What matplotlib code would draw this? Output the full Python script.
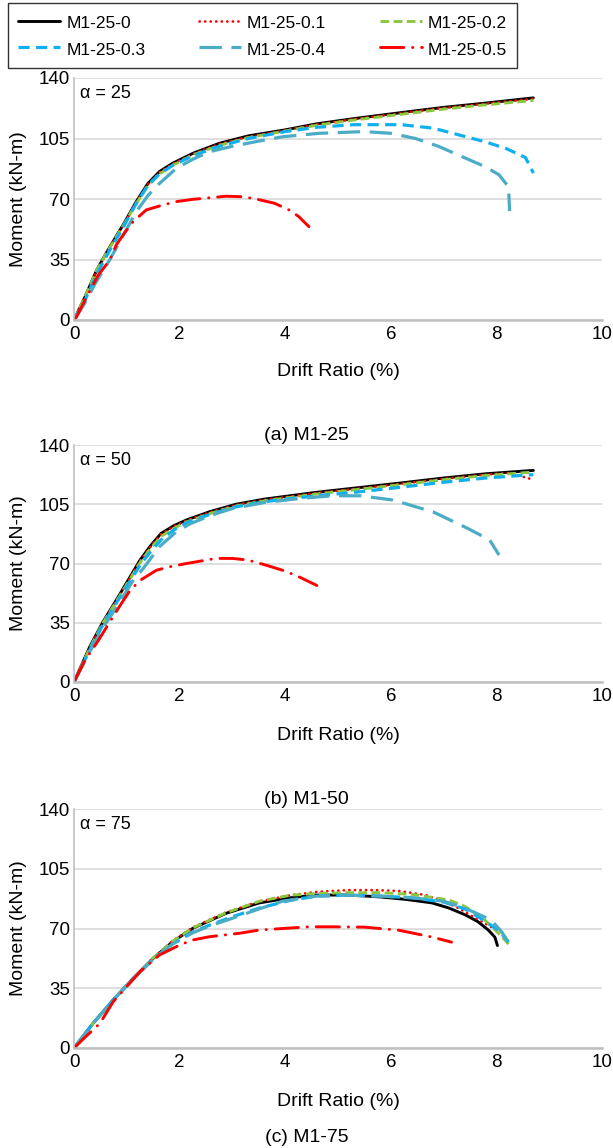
import numpy as np
import matplotlib.pyplot as plt

plt.rcParams['font.family'] = ['Liberation Sans', 'DejaVu Sans']

labels = ['M1-25-0', 'M1-25-0.1', 'M1-25-0.2', 'M1-25-0.3', 'M1-25-0.4', 'M1-25-0.5']
panel_alpha = ['25', '50', '75']
panel_caption = ['(a) M1-25', '(b) M1-50', '(c) M1-75']
x_ticks = [0, 2, 4, 6, 8, 10]
y_ticks = [0, 35, 70, 105, 140]

# ---- (a) alpha = 25 ----
a_x0 = [0, 0.21, 0.43, 0.68, 0.93, 1.18, 1.4, 1.62, 1.87, 2.25, 2.75, 3.3, 4.0, 4.6, 5.3, 6.2, 7.0, 7.8, 8.7]
a_y0 = [0, 13.5, 28.9, 42.4, 55, 68.5, 79, 85.9, 90.7, 96.4, 102.2, 106.5, 110, 113.5, 116.5, 120, 123, 125.5, 128.5]
a_x1 = [0, 0.21, 0.43, 0.68, 0.93, 1.18, 1.4, 1.62, 1.87, 2.25, 2.75, 3.3, 4.0, 4.6, 5.3, 6.2, 7.0, 7.8, 8.7]
a_y1 = [0, 13.3, 28.6, 42.2, 54.8, 68.2, 78.6, 85.5, 90.3, 96, 101.8, 106, 109.7, 113.2, 116.2, 119.7, 122.7, 125.2, 128]
a_x2 = [0, 0.21, 0.43, 0.68, 0.93, 1.18, 1.4, 1.62, 1.87, 2.25, 2.75, 3.3, 4.0, 4.6, 5.3, 6.2, 7.0, 7.8, 8.7]
a_y2 = [0, 13.5, 28.9, 42, 54.5, 67.5, 77.5, 84.5, 89.5, 95.5, 101, 105.5, 109.3, 112.7, 115.7, 119, 122, 124.5, 127]
a_x3 = [0, 0.21, 0.43, 0.68, 0.93, 1.18, 1.4, 1.62, 1.87, 2.25, 2.75, 3.3, 4.0, 4.6, 5.3, 6.2, 6.8, 7.3, 7.8, 8.2, 8.55, 8.7]
a_y3 = [0, 11.5, 26.5, 40.5, 53.5, 67.5, 78, 84.5, 89.5, 95, 100.5, 105, 109, 111.5, 113, 113, 111, 107, 103, 99, 94, 85]
a_x4 = [0, 0.21, 0.4, 0.68, 0.95, 1.18, 1.4, 1.62, 1.94, 2.25, 2.57, 3.0, 3.5, 3.95, 4.64, 5.5, 6.0, 6.47, 6.9, 7.2, 7.5, 7.8, 8.05, 8.23, 8.25]
a_y4 = [0, 10, 21, 35, 50, 62.7, 72, 79, 87.8, 93, 97.4, 100.5, 103.5, 106, 108, 109, 108, 105, 100.5, 96.5, 92.5, 88.5, 84, 77, 63]
a_x5 = [0, 0.05, 0.21, 0.46, 0.68, 0.8, 0.96, 1.12, 1.37, 1.68, 1.94, 2.25, 2.88, 3.2, 3.45, 3.8, 4.07, 4.25, 4.45]
a_y5 = [0, 1.9, 11.6, 26, 34.7, 43.4, 50.5, 56.9, 63.7, 66.5, 68.5, 69.8, 71.6, 71.3, 70, 67.5, 63.7, 60, 54]

# ---- (b) alpha = 50 ----
b_x0 = [0, 0.3, 0.55, 0.84, 1.25, 1.45, 1.65, 1.9, 2.13, 2.57, 3.07, 3.6, 4.58, 5.3, 6.17, 7.0, 7.8, 8.7]
b_y0 = [0, 20.9, 35.6, 50.4, 72, 80.5, 87.8, 92.5, 95.7, 100.6, 105, 108, 112, 114.5, 117.5, 120.5, 123, 125]
b_x1 = [0, 0.3, 0.55, 0.84, 1.25, 1.45, 1.65, 1.9, 2.13, 2.57, 3.07, 3.6, 4.58, 5.3, 6.17, 7.0, 7.8, 8.2, 8.42, 8.7]
b_y1 = [0, 20.5, 35.2, 50, 71.5, 80, 87.3, 92, 95.3, 100.2, 104.6, 107.6, 111.6, 114, 117, 120, 122.5, 123.5, 122, 119.5]
b_x2 = [0, 0.3, 0.55, 0.84, 1.25, 1.45, 1.65, 1.9, 2.13, 2.57, 3.07, 3.6, 4.58, 5.3, 6.17, 7.0, 7.8, 8.7]
b_y2 = [0, 20, 35, 49.5, 70.5, 79, 86, 91, 94.5, 99.5, 104, 107, 111, 113.5, 116.5, 119.5, 122, 124]
b_x3 = [0, 0.3, 0.55, 0.84, 1.25, 1.45, 1.65, 1.9, 2.13, 2.57, 3.07, 3.6, 4.58, 5.3, 6.17, 7.0, 7.8, 8.7]
b_y3 = [0, 19, 34, 48.5, 69, 77, 84, 90, 94, 99, 103.5, 106.5, 110, 112, 115, 118, 120.5, 122.5]
b_x4 = [0, 0.3, 0.55, 0.84, 1.12, 1.31, 1.62, 1.94, 2.2, 2.6, 3.0, 3.6, 4.3, 4.9, 5.42, 6.04, 6.8, 7.44, 7.87, 8.05]
b_y4 = [0, 18, 32, 46, 60, 67, 80, 88.8, 93.5, 98.5, 102.5, 106, 108.5, 110, 110, 107.5, 100.5, 91, 84, 75]
b_x5 = [0, 0.21, 0.45, 0.68, 0.9, 1.06, 1.25, 1.56, 1.8, 2.13, 2.69, 3.0, 3.3, 3.64, 4.0, 4.27, 4.6]
b_y5 = [0, 13, 24, 35.6, 46.5, 54, 60, 66, 68, 70, 73, 73, 72, 69, 65.5, 62, 57]

# ---- (c) alpha = 75 ----
c_x0 = [0, 0.36, 0.74, 1.12, 1.5, 1.87, 2.25, 2.88, 3.51, 4.1, 4.58, 5.2, 5.8, 6.3, 6.78, 7.1, 7.41, 7.65, 7.85, 7.97, 8.02]
c_y0 = [0, 14.4, 28.1, 40.8, 52.5, 62.3, 70.1, 78.9, 85, 88, 89.6, 89.6, 88.5, 87, 85, 82, 78, 74, 69, 65, 60]
c_x1 = [0, 0.36, 0.74, 1.12, 1.5, 1.87, 2.25, 2.88, 3.51, 4.1, 4.6, 5.2, 5.7, 6.15, 6.66, 7.0, 7.28, 7.66, 7.9, 8.1]
c_y1 = [0, 14.4, 28, 40.8, 52.8, 62.8, 70.6, 79.5, 85.8, 89.5, 91.5, 92.5, 92.5, 92, 89.6, 86, 82, 75, 71, 68]
c_x2 = [0, 0.36, 0.74, 1.12, 1.5, 1.87, 2.25, 2.88, 3.51, 4.1, 4.6, 5.2, 5.8, 6.4, 7.1, 7.4, 7.72, 7.95, 8.17, 8.25]
c_y2 = [0, 14.4, 28, 40.8, 52.8, 62.5, 70.3, 79.2, 86, 89.5, 90.5, 91, 91, 90, 86.7, 83, 76.7, 70, 63, 60]
c_x3 = [0, 0.36, 0.74, 1.12, 1.5, 1.87, 2.25, 2.57, 3.0, 3.51, 4.1, 4.6, 5.2, 5.8, 6.4, 7.0, 7.4, 7.7, 8.04, 8.23]
c_y3 = [0, 14.4, 28, 40.5, 52, 61, 68, 72, 76.9, 82, 86.5, 89, 89.5, 89, 88, 85.5, 81.5, 76, 69, 62]
c_x4 = [0, 0.36, 0.74, 1.12, 1.5, 1.87, 2.25, 2.57, 3.0, 3.51, 3.95, 4.6, 5.2, 5.8, 6.4, 7.0, 7.4, 7.9, 8.1, 8.27]
c_y4 = [0, 14.4, 28, 40.5, 52, 61, 67.5, 71.5, 76, 81.5, 86, 89, 89.5, 89, 88, 86, 82, 75, 68, 60]
c_x5 = [0, 0.2, 0.49, 0.74, 1.0, 1.25, 1.62, 2.0, 2.25, 2.57, 3.13, 3.51, 4.45, 4.9, 5.5, 6.15, 6.78, 7.15]
c_y5 = [0, 6, 14.4, 27, 36, 44.7, 54.5, 60.3, 63.3, 65.2, 67.2, 69.1, 71, 71, 70.8, 69, 65, 62]

panels = [
    [(a_x0, a_y0), (a_x1, a_y1), (a_x2, a_y2), (a_x3, a_y3), (a_x4, a_y4), (a_x5, a_y5)],
    [(b_x0, b_y0), (b_x1, b_y1), (b_x2, b_y2), (b_x3, b_y3), (b_x4, b_y4), (b_x5, b_y5)],
    [(c_x0, c_y0), (c_x1, c_y1), (c_x2, c_y2), (c_x3, c_y3), (c_x4, c_y4), (c_x5, c_y5)],
]

colors = ['#000000', '#ff0000', '#8dc63f', '#10b0f0', '#4bacc6', '#ff0000']
widths = [2.1, 1.9, 2.1, 2.3, 2.3, 2.1]
dashes = [None, (0.1, 2.0), (3, 1.5), (3.5, 2), (7, 3), (8, 3, 0.1, 3)]
caps = ['round', 'round', 'butt', 'butt', 'butt', 'round']

W, H = 613, 1148
fig = plt.figure(figsize=(W / 100, H / 100), dpi=100)

# axes pixel boxes: (y of 140, y of 0)
boxes = [(78, 320), (445, 682), (809, 1048)]
left_px, right_px = 74, 602
xlab_y = [372, 735, 1102]
cap_y = [436, 800, 1137]

handles = []
for i, (top, bot) in enumerate(boxes):
    ax = fig.add_axes([left_px / W, (H - bot) / H, (right_px - left_px) / W, (bot - top) / H])
    for j, (xs, ys) in enumerate(panels[i]):
        ln, = ax.plot(xs, ys, color=colors[j], lw=widths[j], solid_capstyle='round',
                      dash_capstyle=caps[j], label=labels[j])
        if dashes[j] is not None:
            ln.set_dashes(dashes[j])
        if i == 0:
            handles.append(ln)
    ax.set_xlim(0, 10)
    ax.set_ylim(0, 140)
    ax.set_xticks(x_ticks)
    ax.set_yticks(y_ticks)
    ax.tick_params(length=0, labelsize=13.5)
    ax.tick_params(axis='x', pad=4)
    ax.tick_params(axis='y', pad=3)
    ax.grid(axis='y', color='#d9d9d9', lw=1.2)
    ax.set_axisbelow(True)
    for s in ['top', 'right']:
        ax.spines[s].set_visible(False)
    ax.spines['left'].set_color('#bfbfbf')
    ax.spines['left'].set_linewidth(1.2)
    ax.spines['bottom'].set_color('#bfbfbf')
    ax.spines['bottom'].set_linewidth(1.8)
    ax.set_ylabel('Moment (kN-m)', fontsize=14, labelpad=8)
    ax.text(0.012, 0.935, '\u03b1 = ' + panel_alpha[i], transform=ax.transAxes,
            fontsize=13, va='center', ha='left')
    fig.text((left_px + right_px) / 2 / W, 1 - xlab_y[i] / H, 'Drift Ratio (%)',
             fontsize=14, ha='center', va='center')
    fig.text(0.5, 1 - cap_y[i] / H, panel_caption[i], fontsize=14, ha='center', va='center')

# row-major legend order like the reference
order = [0, 3, 1, 4, 2, 5]
leg = fig.legend(handles=[handles[k] for k in order], loc='upper left',
                 bbox_to_anchor=(8 / W, 1 - 3 / H),
                 ncol=3, fontsize=12.5, frameon=True, fancybox=False, edgecolor='black',
                 handlelength=2.4, handleheight=1.2, handletextpad=0.35, columnspacing=3.1,
                 borderpad=0.6, labelspacing=0.5, borderaxespad=0)
leg.get_frame().set_linewidth(1.0)

fig.savefig('out.png', dpi=100)
